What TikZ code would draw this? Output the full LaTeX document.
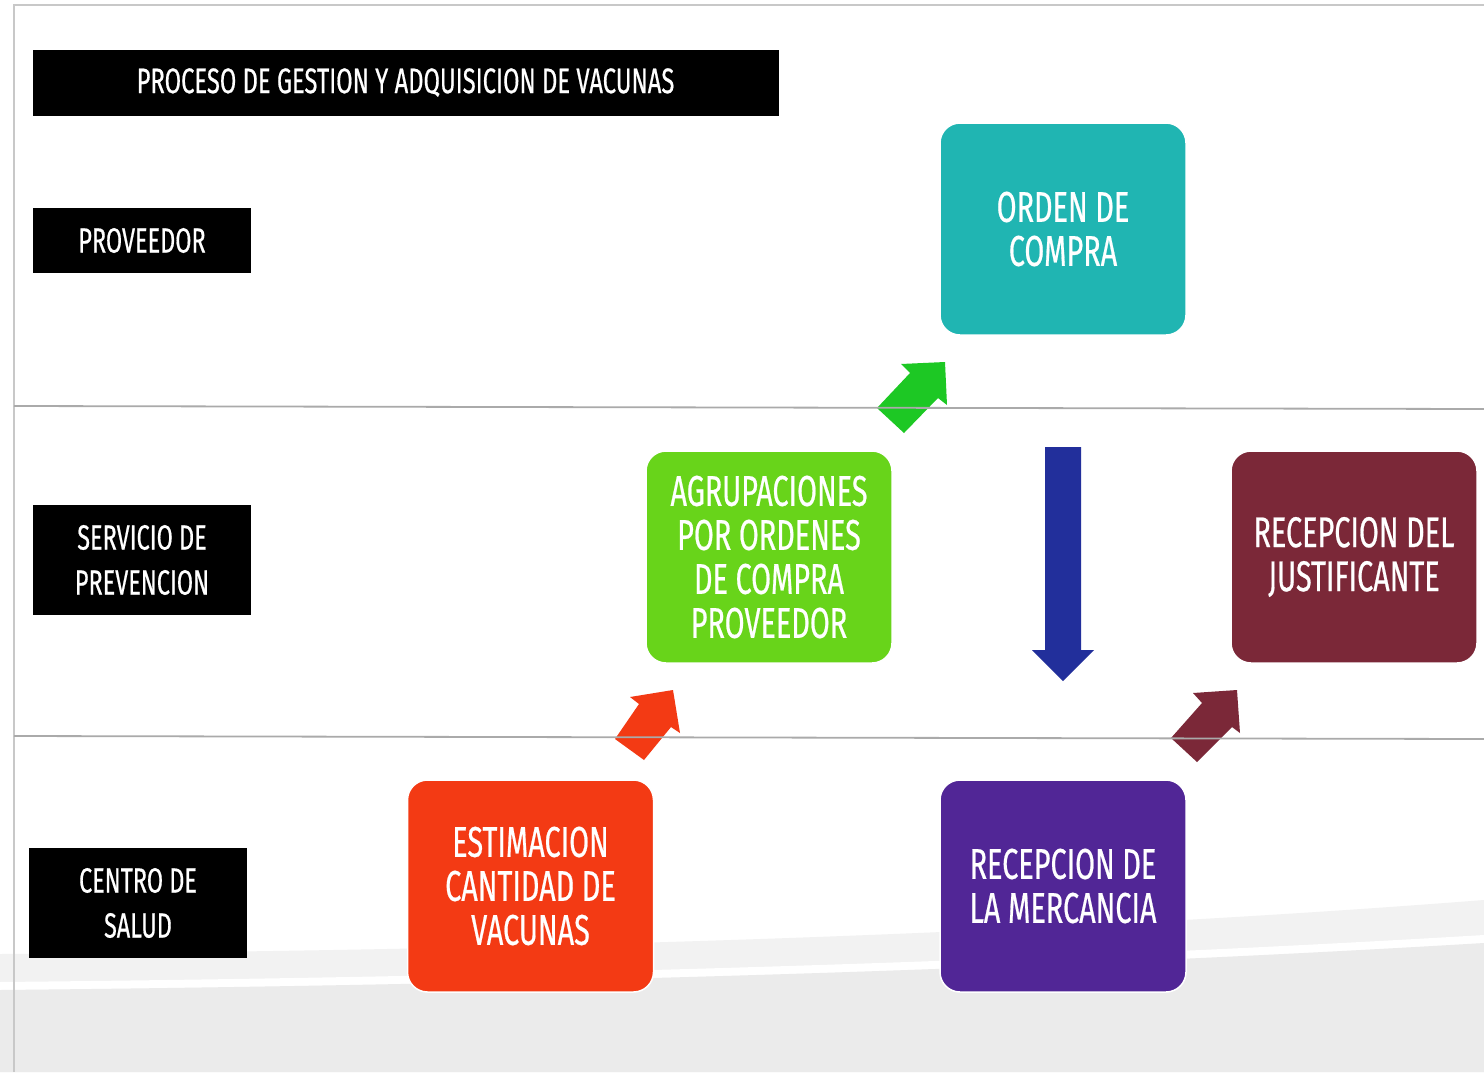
\documentclass[tikz,border=0pt]{standalone}
\usepackage{fontspec}
\newfontfamily\cond[FakeStretch=0.67,FakeBold=0.5]{Fira Sans}
\definecolor{bgA}{HTML}{F2F2F2}
\definecolor{bgB}{HTML}{EBEBEB}
\definecolor{frame}{HTML}{C8C8C8}
\definecolor{lane}{HTML}{AAAAAA}
\definecolor{cteal}{HTML}{20B5B2}
\definecolor{cgreen}{HTML}{68D41A}
\definecolor{cmaroon}{HTML}{7B2838}
\definecolor{cred}{HTML}{F33A14}
\definecolor{cpurple}{HTML}{512696}
\definecolor{cblue}{HTML}{222F9B}
\definecolor{carrowgreen}{HTML}{1DC824}
\begin{document}
\begin{tikzpicture}[x=1pt,y=-1pt,
  lbl/.style={fill=black, text=white, inner sep=0pt, align=center,
    font=\cond\fontsize{35}{45}\selectfont},
  procbox/.style={rounded corners=20pt, draw=white, line width=1.5pt, text=white,
    align=center, inner sep=0pt, minimum width=246pt, minimum height=212pt,
    font=\cond\fontsize{43}{44}\selectfont},
  lanel/.style={draw=lane, line width=1.8pt},
  framel/.style={draw=frame, line width=1.2pt}]
\useasboundingbox (0,0) rectangle (1484,1072);
\fill[white] (0,0) rectangle (1484,1072);
% background swooshes
\fill[bgA] (0,954) .. controls (600,950) and (1100,930) .. (1484,900) -- (1484,1072) -- (0,1072) -- cycle;
\fill[white] (0,982) .. controls (600,976) and (1100,958) .. (1484,935) -- (1484,1072) -- (0,1072) -- cycle;
\fill[bgB] (0,990) .. controls (600,984) and (1100,966) .. (1484,943) -- (1484,1072) -- (0,1072) -- cycle;
% frame
\coordinate (ftl) at (14,5);
\coordinate (ftr) at (1484,5);
\coordinate (fbl) at (14,1072);
\draw[framel] (ftr) -- (ftl) -- (fbl);
% block arrows
\fill[carrowgreen] (877,408) -- (910,373) -- (901,364) -- (945,362) -- (947,405) -- (938,398) -- (904,433) -- cycle;
\fill[cred] (615,739) -- (639,704) -- (630,697) -- (673,690) -- (680,733) -- (671,727) -- (644,760) -- cycle;
\fill[cmaroon] (1171,738) -- (1202,703) -- (1193,693) -- (1237,690) -- (1240,733) -- (1232,727) -- (1197,762) -- cycle;
\fill[cblue] (1045,447) -- (1081,447) -- (1081,650) -- (1094,650) -- (1063,681) -- (1032,650) -- (1045,650) -- cycle;
% lane lines
\coordinate (l1a) at (14,406); \coordinate (l1b) at (1484,409);
\coordinate (l2a) at (14,736); \coordinate (l2b) at (1484,739);
\draw[lanel] (l1a) -- (l1b);
\draw[lanel] (l2a) -- (l2b);
% labels
\node[lbl, minimum width=746pt, minimum height=66pt, font=\cond\fontsize{35.5}{40}\selectfont] (title) at (405.5,82.5) {PROCESO DE GESTION Y ADQUISICION DE VACUNAS};
\node[lbl, minimum width=218pt, minimum height=65pt] (prov) at (142,240.5) {PROVEEDOR};
\node[lbl, minimum width=218pt, minimum height=110pt] (serv) at (142,560) {SERVICIO DE\\PREVENCION};
\node[lbl, minimum width=218pt, minimum height=110pt] (cent) at (138,903) {CENTRO DE\\SALUD};
% process boxes
\node[procbox, fill=cteal] (orden) at (1063,229) {ORDEN DE\\COMPRA};
\node[procbox, fill=cgreen] (agru) at (769,557) {AGRUPACIONES\\POR ORDENES\\DE COMPRA\\PROVEEDOR};
\node[procbox, fill=cmaroon] (just) at (1354,557) {RECEPCION DEL\\JUSTIFICANTE};
\node[procbox, fill=cred] (esti) at (530.5,886) {ESTIMACION\\CANTIDAD DE\\VACUNAS};
\node[procbox, fill=cpurple] (merc) at (1063,886) {RECEPCION DE\\LA MERCANCIA};
\end{tikzpicture}
\end{document}
